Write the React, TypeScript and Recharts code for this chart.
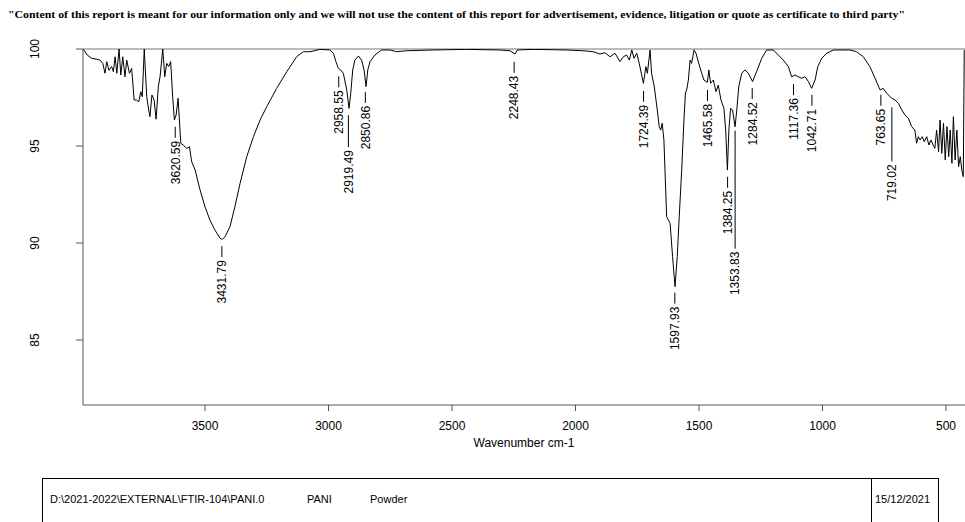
import React from "react";
import {
  LineChart,
  Line,
  XAxis,
  YAxis,
  ReferenceLine,
  ReferenceDot,
} from "recharts";

// FTIR spectrum: wavenumber (cm-1) and % transmittance
const WAVENUMBERS = [
  3993, 3977, 3959, 3938, 3925, 3914, 3905, 3898, 3889, 3878, 3871, 3864, 3857,
  3848, 3841, 3833, 3824, 3817, 3806, 3797, 3787, 3777, 3768, 3760, 3754, 3746,
  3736, 3728, 3723, 3715, 3706, 3698, 3689, 3682, 3671, 3663, 3655, 3647, 3639,
  3631, 3624, 3617, 3609, 3598, 3588, 3574, 3563, 3554, 3540, 3520, 3500, 3480,
  3460, 3439, 3430, 3419, 3399, 3379, 3358, 3331, 3304, 3277, 3250, 3210, 3169,
  3129, 3102, 3075, 3034, 2994, 2980, 2970, 2960, 2951, 2940, 2926, 2917, 2910,
  2902, 2893, 2879, 2866, 2856, 2848, 2841, 2832, 2812, 2785, 2751, 2724, 2683,
  2576, 2441, 2306, 2265, 2245, 2235, 2171, 2036, 1969, 1928, 1901, 1881, 1860,
  1840, 1820, 1806, 1793, 1782, 1772, 1763, 1752, 1742, 1725, 1715, 1709, 1698,
  1692, 1681, 1669, 1661, 1655, 1649, 1642, 1631, 1617, 1607, 1597, 1588, 1580,
  1570, 1561, 1555, 1550, 1543, 1536, 1530, 1520, 1512, 1503, 1489, 1480, 1466,
  1460, 1453, 1442, 1431, 1422, 1411, 1399, 1392, 1385, 1379, 1372, 1364, 1354,
  1347, 1339, 1327, 1314, 1300, 1283, 1267, 1246, 1226, 1199, 1179, 1159, 1138,
  1125, 1111, 1098, 1084, 1071, 1057, 1044, 1030, 1019, 1003, 983, 956, 889, 862,
  835, 808, 787, 767, 754, 740, 720, 706, 693, 679, 666, 652, 639, 626, 619, 612,
  605, 596, 588, 578, 569, 561, 552, 545, 538, 530, 524, 517, 510, 503, 496, 489,
  483, 476, 470, 463, 456, 449, 442, 436, 430, 426,
];

const TRANSMITTANCE = [
  100, 99.69, 99.52, 99.47, 99.43, 99.26, 98.75, 99.35, 98.9, 99.1, 98.83, 99.6,
  98.75, 100, 98.66, 99.6, 98.57, 99.43, 98.75, 99.0, 97.37, 97.37, 97.28, 97.8,
  97.54, 100, 97.54, 96.86, 96.51, 97.63, 97.37, 96.38, 98.06, 98.57, 100, 98.57,
  99.26, 99.1, 99.35, 97.54, 96.34, 96.6, 97.46, 95.14, 95.05, 94.88, 94.96,
  94.19, 93.76, 92.73, 91.87, 91.18, 90.67, 90.24, 90.19, 90.32, 90.84, 91.87,
  93.08, 94.45, 95.48, 96.34, 97.03, 97.97, 98.83, 99.6, 99.86, 99.86, 99.98,
  99.95, 99.78, 99.35, 99.0, 98.92, 98.75, 97.89, 96.94, 97.72, 98.92, 99.43,
  99.64, 99.43, 98.92, 98.06, 98.92, 99.35, 99.69, 99.95, 99.95, 99.86, 99.91,
  99.95, 99.98, 99.95, 99.91, 99.74, 99.95, 99.98, 99.95, 99.91, 99.86, 99.74,
  99.81, 99.6, 99.78, 99.35, 99.6, 99.69, 99.43, 99.95, 99.52, 99.78, 99.26,
  98.23, 99.09, 98.75, 99.95, 98.75, 98.06, 96.86, 96.0, 95.82, 96.17, 95.31,
  91.36, 91.01, 89.3, 87.75, 89.3, 91.36, 93.76, 96.34, 97.72, 97.89, 98.4,
  99.43, 99.26, 99.95, 99.78, 99.35, 98.75, 98.4, 98.28, 98.92, 98.23, 98.4,
  97.8, 98.14, 97.37, 96.94, 95.82, 93.76, 95.82, 96.94, 96.86, 95.99, 96.86,
  98.06, 98.75, 98.92, 98.75, 98.32, 98.83, 99.52, 99.95, 99.95, 99.69, 99.43,
  99.09, 98.57, 98.66, 98.57, 98.49, 98.57, 98.32, 97.97, 98.4, 99.09, 99.52,
  99.78, 99.95, 99.95, 99.86, 99.6, 99.09, 98.49, 97.89, 97.97, 97.72, 97.46,
  97.37, 97.2, 96.86, 96.6, 96.43, 96.0, 95.82, 95.14, 95.48, 95.31, 95.48,
  95.22, 95.48, 95.05, 95.31, 95.05, 94.88, 95.82, 94.71, 96.34, 94.62, 96.17,
  94.28, 96.0, 94.45, 95.82, 94.11, 96.51, 94.28, 95.82, 93.93, 94.45, 93.76,
  93.42, 99.95,
];

// picked peaks
const PEAK_LABELS = [
  "3620.59", "3431.79", "2958.55", "2919.49", "2850.86", "2248.43", "1724.39",
  "1597.93", "1465.58", "1384.25", "1353.83", "1284.52", "1117.36", "1042.71",
  "763.65", "719.02",
];
const PEAK_T = [
  96.3, 90.15, 98.9, 96.9, 98.1, 99.65, 98.15, 87.75, 98.2, 93.72, 96.1, 98.3,
  98.5, 97.95, 97.95, 97.3,
];

const X_TICKS = [3500, 3000, 2500, 2000, 1500, 1000, 500];
const Y_TICKS = [85, 90, 95, 100];

const FILE_PATH = "D:\\2021-2022\\EXTERNAL\\FTIR-104\\PANI.0";
const SAMPLE = "PANI";
const FORM = "Powder";
const DATE = "15/12/2021";
const DISCLAIMER =
  '"Content of this report is meant for our information only and we will not use the content of this report for advertisement, evidence, litigation or quote as certificate to third party"';

// longer leader lines where labels are staggered
const LEADS: Record<string, number> = { "2919.49": 32, "1353.83": 118, "719.02": 54 };

const FONT = "'Liberation Sans', Arial, sans-serif";

const data = WAVENUMBERS.map((wn, i) => ({ wn, t: TRANSMITTANCE[i] }));

function PeakMark({ cx, cy, label }: any) {
  const top = cy + 6;
  const lead = LEADS[label] ?? 11;
  const textY = top + lead + 3;
  const bx = cx + 4.3;
  return (
    <g>
      <line x1={cx} y1={top} x2={cx} y2={top + lead} stroke="#000" strokeWidth={1} />
      <text
        x={bx}
        y={textY}
        transform={`rotate(-90, ${bx}, ${textY})`}
        textAnchor="end"
        fontFamily={FONT}
        fontSize={12}
        fill="#000"
      >
        {label}
      </text>
    </g>
  );
}

function YTick({ x, y, payload }: any) {
  const bx = x - 35;
  return (
    <text
      x={bx}
      y={y}
      transform={`rotate(-90, ${bx}, ${y})`}
      textAnchor="middle"
      fontFamily={FONT}
      fontSize={12}
      fill="#000"
    >
      {payload.value}
    </text>
  );
}

export default function App() {
  return (
    <div style={{ position: "absolute", left: 0, top: 0, width: 965, height: 522, background: "#fff", overflow: "hidden" }}>
      <LineChart
        width={965}
        height={522}
        data={data}
        margin={{ top: 49, right: 0, bottom: 77, left: 8 }}
      >
        <XAxis
          dataKey="wn"
          type="number"
          domain={[423, 3994]}
          reversed
          ticks={X_TICKS}
          tickSize={6}
          tickMargin={10}
          height={40}
          stroke="#555"
          tick={{ fill: "#000", fontSize: 12, fontFamily: FONT }}
          allowDataOverflow
        />
        <YAxis
          type="number"
          domain={[81.65, 100]}
          ticks={Y_TICKS}
          tickSize={7}
          width={75}
          stroke="#555"
          tick={<YTick />}
          allowDataOverflow
        />
        <ReferenceLine y={100} stroke="#777" strokeWidth={1} />
        <Line
          type="linear"
          dataKey="t"
          stroke="#000"
          strokeWidth={1}
          dot={false}
          isAnimationActive={false}
        />
        {PEAK_LABELS.map((lbl, i) => (
          <ReferenceDot
            key={lbl}
            x={parseFloat(lbl)}
            y={PEAK_T[i]}
            r={0}
            ifOverflow="visible"
            shape={(p: any) => <PeakMark cx={p.cx} cy={p.cy} label={lbl} />}
          />
        ))}
      </LineChart>
      <svg
        width={965}
        height={522}
        style={{ position: "absolute", left: 0, top: 0, pointerEvents: "none" }}
      >
        <text
          x={8}
          y={18}
          fontFamily="'Liberation Serif', 'Times New Roman', serif"
          fontWeight="bold"
          fontSize={10.5}
          textLength={897}
          lengthAdjust="spacingAndGlyphs"
        >
          {DISCLAIMER}
        </text>
        <text x={524} y={447} textAnchor="middle" fontFamily={FONT} fontSize={12}>
          Wavenumber cm-1
        </text>
        <rect x={42.5} y={478.5} width={896} height={60} fill="none" stroke="#000" strokeWidth={1} />
        <line x1={871.5} y1={478.5} x2={871.5} y2={522} stroke="#000" strokeWidth={1} />
        <text x={50} y={503} fontFamily={FONT} fontSize={11}>{FILE_PATH}</text>
        <text x={307} y={503} fontFamily={FONT} fontSize={11}>{SAMPLE}</text>
        <text x={370} y={503} fontFamily={FONT} fontSize={11}>{FORM}</text>
        <text x={875} y={503} fontFamily={FONT} fontSize={11}>{DATE}</text>
      </svg>
    </div>
  );
}
